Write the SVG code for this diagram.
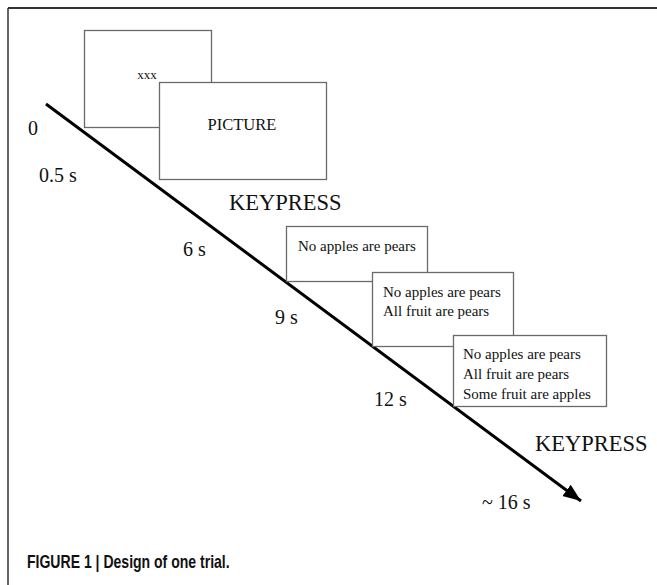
<svg xmlns="http://www.w3.org/2000/svg" width="657" height="585" viewBox="0 0 657 585">
<defs>
<style>
.frame{stroke:#333;fill:none}
.box{fill:#fff;stroke:#6a6a6a;stroke-width:1.3}
.t{font-family:"Liberation Serif","Times New Roman",serif;fill:#111}
.lbl{font-size:20px}
.kp{font-size:22.5px}
.bt{font-size:15px}
.cap{font-family:"Liberation Sans",Arial,sans-serif;font-size:18px;fill:#111}
.conn{stroke:#000;stroke-width:3;fill:none}
</style>
<marker id="ah" markerUnits="userSpaceOnUse" markerWidth="20" markerHeight="16" viewBox="0 0 20 16" refX="18" refY="8" orient="auto">
<path d="M0,1 L18,8 L0,15 z" fill="#000"/>
</marker>
</defs>
<rect width="657" height="585" fill="#fff"/>
<g id="frame">
<line class="frame" x1="8" y1="8" x2="657" y2="8" stroke-width="2"/>
<line class="frame" x1="8" y1="8" x2="8" y2="585" stroke-width="1.5"/>
</g>
<g id="connectors">
<line class="conn" x1="46" y1="104" x2="581" y2="501" marker-end="url(#ah)"/>
</g>
<g id="node-xxx">
<rect class="box" x="84.5" y="30.5" width="127" height="97"/>
<text class="t" x="147" y="79" font-size="13" text-anchor="middle">xxx</text>
</g>
<g id="node-picture">
<rect class="box" x="159.5" y="82.5" width="167" height="97"/>
<text class="t" x="242" y="130" font-size="16.5" text-anchor="middle">PICTURE</text>
</g>
<g id="node-s1">
<rect class="box" x="286.5" y="226.5" width="141" height="55"/>
<text class="t bt" x="298" y="251">No apples are pears</text>
</g>
<g id="node-s2">
<rect class="box" x="372.5" y="272.5" width="141" height="74"/>
<text class="t bt" x="383" y="297">No apples are pears</text>
<text class="t bt" x="383" y="316">All fruit are pears</text>
</g>
<g id="node-s3">
<rect class="box" x="453.5" y="335.5" width="153" height="71"/>
<text class="t bt" x="463" y="359">No apples are pears</text>
<text class="t bt" x="463" y="379">All fruit are pears</text>
<text class="t bt" x="463" y="399">Some fruit are apples</text>
</g>
<g id="labels">
<text class="t lbl" x="28" y="135">0</text>
<text class="t lbl" x="39" y="182">0.5 s</text>
<text class="t kp" x="229" y="210">KEYPRESS</text>
<text class="t lbl" x="183" y="256">6 s</text>
<text class="t lbl" x="275" y="324">9 s</text>
<text class="t lbl" x="374" y="406">12 s</text>
<text class="t kp" x="535" y="451">KEYPRESS</text>
<text class="t lbl" x="482" y="509">~ 16 s</text>
</g>
<g id="caption">
<text class="cap" transform="translate(27,568) scale(0.78,1)" x="0" y="0" font-weight="bold">FIGURE 1 | Design of one trial.</text>
</g>
</svg>
